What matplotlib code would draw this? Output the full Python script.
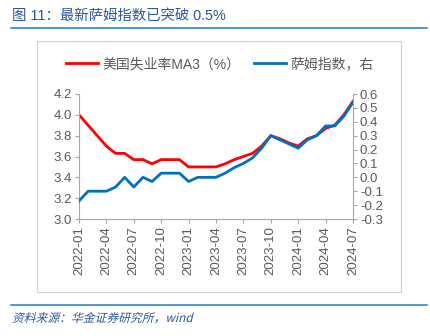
import matplotlib
matplotlib.use("Agg")
import matplotlib.pyplot as plt
import numpy as np
import pandas as pd
from matplotlib.patches import Rectangle, PathPatch
from matplotlib.lines import Line2D
from matplotlib.textpath import TextPath
from matplotlib.font_manager import FontProperties
from matplotlib.transforms import Affine2D, IdentityTransform

plt.rcParams['font.family'] = ['Liberation Sans', 'Noto Sans CJK SC', 'DejaVu Sans']

# monthly data 2022-01 .. 2024-07
months = pd.date_range('2022-01-01', '2024-07-01', freq='MS')
unemp_ma3 = [4.00, 3.90, 3.80, 3.70, 3.63, 3.63, 3.57, 3.57, 3.53, 3.57,
             3.57, 3.57, 3.50, 3.50, 3.50, 3.50, 3.53, 3.57, 3.60, 3.63,
             3.70, 3.80, 3.77, 3.73, 3.70, 3.77, 3.80, 3.87, 3.90, 4.00,
             4.13]
sahm = [-0.17, -0.10, -0.10, -0.10, -0.07, 0.00, -0.07, 0.00, -0.03, 0.03,
        0.03, 0.03, -0.03, 0.00, 0.00, 0.00, 0.03, 0.07, 0.10, 0.14,
        0.21, 0.30, 0.27, 0.24, 0.21, 0.27, 0.30, 0.37, 0.37, 0.44,
        0.54]
labels = [m.strftime('%Y-%m') for m in months]

title = '图 11：最新萨姆指数已突破 0.5%'
source = '资料来源：华金证券研究所，wind'
red_name = '美国失业率MA3（%）'
blue_name = '萨姆指数，右'

gray = '#595959'
spine_c = '#A6A6A6'
blue_title = '#2B579A'
W, H = 431, 336

fig = plt.figure(figsize=(W / 100, H / 100), dpi=100)

# title, rules, frame
fig.text(12 / W, 1 - 16 / H, title, color=blue_title, fontsize=10.4, va='center', ha='left')
fig.add_artist(Line2D([11 / W, 427 / W], [1 - 28 / H] * 2, color='#2E86D1', lw=1.2))
fig.add_artist(Line2D([11 / W, 427 / W], [1 - 305 / H] * 2, color='#2E86D1', lw=1.2))
fig.add_artist(Rectangle((37 / W, 1 - 292 / H), 364 / W, 251 / H,
                         fill=False, ec='#D0D0D0', lw=0.8))

# italic source line (CJK font has no italic, so slant the glyph outlines)
tp = TextPath((0, 0), source, size=11.8, prop=FontProperties(family='Noto Sans CJK SC'))
slant = Affine2D().skew_deg(14, 0).translate(12, H - 322)
fig.add_artist(PathPatch(tp, transform=slant + IdentityTransform(),
                         fc=blue_title, ec='none'))

ax = fig.add_axes([79 / W, 1 - 219 / H, 274 / W, 125 / H])
x = np.arange(len(months))
ax.plot(x, unemp_ma3, color='#FF0000', lw=2.0)
ax.set_ylim(3.0, 4.2)
ax.set_yticks(np.arange(3.0, 4.21, 0.2))
ax.set_yticklabels([f'{v:.1f}' for v in np.arange(3.0, 4.21, 0.2)])
ax.set_xlim(0, len(months) - 1)
ax.set_xticks(x[::3])
ax.set_xticklabels(labels[::3], rotation=90)

ax2 = ax.twinx()
ax2.plot(x, sahm, color='#0070C0', lw=2.0)
ax2.set_ylim(-0.3, 0.6)
ax2.set_yticks(np.arange(-0.3, 0.61, 0.1))
ax2.set_yticklabels([f'{v:.1f}' if abs(v) > 1e-9 else '0.0' for v in np.arange(-0.3, 0.61, 0.1)])
ax2.set_xlim(0, len(months) - 1)

for a in (ax, ax2):
    for s in a.spines.values():
        s.set_visible(False)
    a.tick_params(colors=spine_c, labelcolor=gray, labelsize=9.5, length=3, width=0.8)
ax.spines['left'].set_visible(True)
ax.spines['bottom'].set_visible(True)
ax.spines['left'].set_color(spine_c)
ax.spines['bottom'].set_color(spine_c)
ax2.spines['right'].set_visible(True)
ax2.spines['right'].set_color(spine_c)
ax.tick_params(axis='y', pad=2)
ax2.tick_params(axis='y', pad=2)
ax.tick_params(axis='x', pad=2)

handles = [Line2D([], [], color='#FF0000', lw=2.0), Line2D([], [], color='#0070C0', lw=2.0)]
fig.legend(handles, [red_name, blue_name], loc='center', bbox_to_anchor=(220 / W, 1 - 64 / H),
           ncol=2, frameon=False, fontsize=10, labelcolor=gray, handlelength=2.3,
           handletextpad=0.3, columnspacing=1.0)

fig.savefig('out.png', dpi=100)
